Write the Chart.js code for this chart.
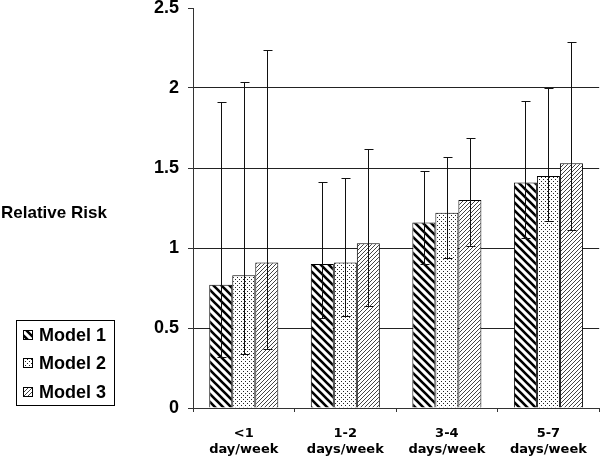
<!DOCTYPE html>
<html>
<head>
<meta charset="utf-8">
<script src="https://cdn.jsdelivr.net/npm/chart.js"></script>
<style>
  html, body { margin: 0; padding: 0; background: #fff; }
  #wrap { width: 601px; height: 460px; }
</style>
</head>
<body>
<div id="wrap"><canvas id="grafico" width="601" height="460"></canvas></div>
<script>
const categorias = [['<1', 'day/week'], ['1-2', 'days/week'], ['3-4', 'days/week'], ['5-7', 'days/week']];
const modelos = ['Model 1', 'Model 2', 'Model 3'];

const model1 = [0.77, 0.90, 1.16, 1.41];
const model1Lo = [0.32, 0.56, 0.90, 1.06];
const model1Hi = [1.91, 1.41, 1.48, 1.92];

const model2 = [0.83, 0.91, 1.22, 1.45];
const model2Lo = [0.34, 0.575, 0.94, 1.17];
const model2Hi = [2.04, 1.44, 1.57, 2.00];

const model3 = [0.91, 1.03, 1.30, 1.53];
const model3Lo = [0.37, 0.64, 1.01, 1.11];
const model3Hi = [2.24, 1.62, 1.69, 2.29];

const yTicks = [0, 0.5, 1, 1.5, 2, 2.5];

// patrones de relleno
function patronRayas() {
  const c = document.createElement('canvas');
  c.width = 8; c.height = 8;
  const x = c.getContext('2d');
  x.fillStyle = '#fff'; x.fillRect(0, 0, 8, 8);
  x.strokeStyle = '#000'; x.lineWidth = 2.6;
  x.beginPath();
  x.moveTo(-2, -2); x.lineTo(10, 10);
  x.moveTo(-10, -2); x.lineTo(2, 10);
  x.moveTo(6, -2); x.lineTo(18, 10);
  x.stroke();
  return x.createPattern(c, 'repeat');
}
function patronPuntos() {
  const c = document.createElement('canvas');
  c.width = 4; c.height = 4;
  const x = c.getContext('2d');
  x.fillStyle = '#fff'; x.fillRect(0, 0, 4, 4);
  x.fillStyle = '#222';
  x.fillRect(1, 1, 1, 1);
  x.fillRect(3, 3, 1, 1);
  return x.createPattern(c, 'repeat');
}
function patronFino() {
  const c = document.createElement('canvas');
  c.width = 4; c.height = 4;
  const x = c.getContext('2d');
  x.fillStyle = '#fff'; x.fillRect(0, 0, 4, 4);
  x.strokeStyle = '#444'; x.lineWidth = 1;
  x.beginPath();
  x.moveTo(-1, 5); x.lineTo(5, -1);
  x.moveTo(-3, 3); x.lineTo(3, -3);
  x.moveTo(1, 7); x.lineTo(7, 1);
  x.stroke();
  return x.createPattern(c, 'repeat');
}
const rellenos = [patronRayas(), patronPuntos(), patronFino()];
const errores = [[model1Lo, model1Hi], [model2Lo, model2Hi], [model3Lo, model3Hi]];

const barrasError = {
  id: 'barrasError',
  afterDatasetsDraw(chart) {
    const ctx = chart.ctx;
    const y = chart.scales.y;
    ctx.save();
    ctx.strokeStyle = '#111';
    ctx.lineWidth = 1;
    errores.forEach((par, i) => {
      const meta = chart.getDatasetMeta(i);
      meta.data.forEach((bar, j) => {
        const bx = Math.round(bar.x) + 0.5;
        const yLo = Math.round(y.getPixelForValue(par[0][j])) + 0.5;
        const yHi = Math.round(y.getPixelForValue(par[1][j])) + 0.5;
        ctx.beginPath();
        ctx.moveTo(bx, yLo); ctx.lineTo(bx, yHi);
        ctx.moveTo(bx - 4, yLo); ctx.lineTo(bx + 5, yLo);
        ctx.moveTo(bx - 4, yHi); ctx.lineTo(bx + 5, yHi);
        ctx.stroke();
      });
    });
    ctx.restore();
  }
};

const fuente = '"Liberation Sans", Arial, sans-serif';

const extras = {
  id: 'extras',
  afterDraw(chart) {
    const ctx = chart.ctx;
    ctx.save();
    ctx.fillStyle = '#000';
    ctx.font = 'bold 17px ' + fuente;
    ctx.textBaseline = 'middle';
    ctx.textAlign = 'left';
    ctx.fillText('Relative Risk', 1, 213);

    // leyenda
    ctx.strokeStyle = '#000';
    ctx.lineWidth = 1;
    ctx.strokeRect(16.5, 320.5, 98, 85);
    const filas = [335, 363, 392];
    modelos.forEach((m, i) => {
      const fy = filas[i];
      ctx.fillStyle = rellenos[i];
      ctx.fillRect(23, fy - 5, 10, 10);
      ctx.strokeRect(23.5, fy - 4.5, 9, 9);
      ctx.fillStyle = '#000';
      ctx.font = 'bold 18px ' + fuente;
      ctx.fillText(m, 39, fy + 1);
    });
    ctx.restore();
  }
};

new Chart(document.getElementById('grafico'), {
  type: 'bar',
  data: {
    labels: categorias,
    datasets: [
      { label: modelos[0], data: model1, backgroundColor: rellenos[0], borderColor: '#000', borderWidth: 1 },
      { label: modelos[1], data: model2, backgroundColor: rellenos[1], borderColor: '#000', borderWidth: 1 },
      { label: modelos[2], data: model3, backgroundColor: rellenos[2], borderColor: '#000', borderWidth: 1 }
    ]
  },
  options: {
    responsive: false,
    animation: false,
    layout: { padding: { top: 8, right: 1, left: 0, bottom: 0 } },
    categoryPercentage: 0.68,
    barPercentage: 1,
    plugins: { legend: { display: false }, tooltip: { enabled: false } },
    scales: {
      x: {
        grid: { display: true, drawOnChartArea: false, offset: true, tickLength: 4, tickColor: '#333' },
        border: { color: '#333' },
        ticks: {
          color: '#000',
          font: { family: '"DejaVu Sans", sans-serif', weight: 'bold', size: 13 },
          padding: 14,
          maxRotation: 0
        },
        afterFit(s) { s.height = 52; }
      },
      y: {
        min: 0, max: 2.5,
        afterBuildTicks(s) { s.ticks = yTicks.map(v => ({ value: v })); },
        grid: {
          color: c => (c.tick && (c.tick.value === 2.5 || c.tick.value === 0)) ? 'rgba(0,0,0,0)' : '#222',
          tickColor: '#333',
          tickLength: 5
        },
        border: { color: '#333' },
        ticks: {
          color: '#000',
          font: { family: fuente, weight: 'bold', size: 18 },
          padding: 9,
          callback: v => String(v)
        },
        afterFit(s) { s.width = 193; s.paddingTop = 0; s.paddingBottom = 0; }
      }
    }
  },
  plugins: [barrasError, extras]
});
</script>
</body>
</html>
